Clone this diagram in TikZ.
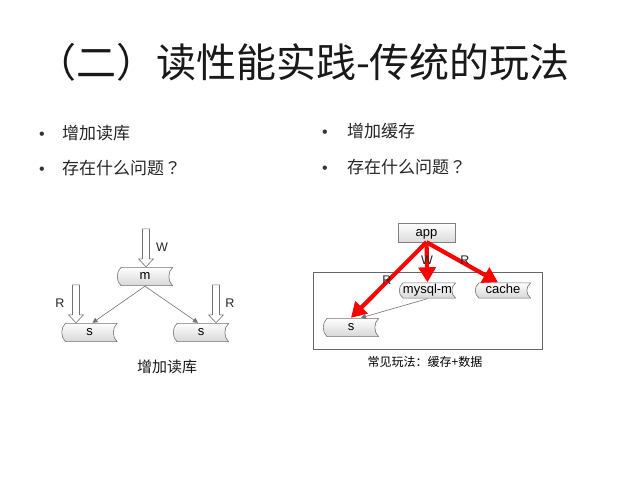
\documentclass[tikz,border=0pt]{standalone}
\usepackage{fontspec}
\setmainfont{Liberation Sans}
\newfontfamily\cjk{Noto Sans CJK SC}
\newfontfamily\cjkq{Noto Sans CJK TC}
\usetikzlibrary{arrows.meta}

\begin{document}
\begin{tikzpicture}[
  x=1pt, y=-1pt,
  title/.style={font=\cjk\fontsize{40}{44}\selectfont, text=black!90, inner sep=0pt},
  item/.style={font=\cjk\fontsize{17}{20}\selectfont, anchor=west, inner sep=0pt, text=black!85},
  dot/.style={font=\fontsize{16}{18}\selectfont, anchor=base, inner sep=0pt, text=black!80},
  caption/.style={font=\cjk\fontsize{15}{18}\selectfont, inner sep=0pt, text=black!90},
  lbl/.style={font=\fontsize{12.5}{14}\selectfont, inner sep=0pt, text=black!85},
  db/.style={minimum width=56pt, minimum height=19pt, inner sep=0pt, text height=0.7em, text depth=0.2em,
    font=\fontsize{13}{15}\selectfont,
    path picture={
      \draw[black!55, top color=white, bottom color=black!16, line width=0.6pt]
        ([shift={(4pt,-0.4pt)}]path picture bounding box.north west)
        .. controls +(-5pt,-4pt) and +(-5pt,4pt) ..
        ([shift={(4pt,0.4pt)}]path picture bounding box.south west)
        -- ([shift={(-0.4pt,0.4pt)}]path picture bounding box.south east)
        .. controls +(-5pt,4pt) and +(-5pt,-4pt) ..
        ([shift={(-0.4pt,-0.4pt)}]path picture bounding box.north east)
        -- cycle;
    }},
  appbox/.style={draw=black!50, top color=white, bottom color=black!14, minimum width=57pt, minimum height=19pt,
    inner sep=0pt, text height=0.7em, text depth=0pt, font=\fontsize{13}{15}\selectfont},
  frame/.style={draw=black!60, line width=0.6pt, minimum width=229pt, minimum height=77pt},
  sync/.style={-{Triangle[length=5pt,width=5pt]}, draw=black!55, line width=0.6pt},
  req/.style={-{Triangle[length=15pt,width=17pt]}, draw=red, line width=4.2pt},
  hollow/.pic={\draw[black!55, fill=white, line width=0.6pt] (0,0) -- (-7.5,-8) -- (-3.5,-8) -- (-3.5,-38) -- (3.5,-38) -- (3.5,-8) -- (7.5,-8) -- cycle;}
]
\useasboundingbox[fill=white] (0,0) rectangle (640,480);

% titre
\node[title] (head) at (303,62) {（二）读性能实践-传统的玩法};

% puces (ancre sur la ligne de base)
\node[dot]  (d1) at (42,139) {•};
\node[item] (t1) at (62,133) {增加读库};
\node[dot]  (d2) at (42,174) {•};
\node[item] (t2) at (62,168) {存在什么问题{\cjkq ？}};
\node[dot]  (d3) at (325,137) {•};
\node[item] (t3) at (347,131) {增加缓存};
\node[dot]  (d4) at (325,173) {•};
\node[item] (t4) at (347,167) {存在什么问题{\cjkq ？}};

% gauche : maitre + deux esclaves
\node[db] (m)  at (145,276.5) {m};
\node[db] (s1) at (89.5,332.5) {s};
\node[db] (s2) at (201,332.5) {s};
\draw[sync] (m.south) -- ([xshift=3pt]s1.north);
\draw[sync] (m.south) -- ([xshift=-3pt]s2.north);

\pic at ([xshift=1pt]m.north) {hollow};
\pic at ([xshift=-13.5pt]s1.north) {hollow};
\pic at ([xshift=15pt]s2.north) {hollow};
\node[lbl] (w1) at (162,247) {W};
\node[lbl] (r1) at (60,303) {R};
\node[lbl] (r2) at (230,303) {R};
\node[caption] (cap1) at (167,367) {增加读库};

% droite : cache + bases
\node[frame] (box) at (427.5,310.5) {};
\node[appbox] (app) at (426.5,232.5) {app};
\node[db, minimum width=57pt, minimum height=16pt] (mm)    at (427.5,290.5) {mysql-m};
\node[db, minimum height=16pt]                     (cache) at (503,290.5) {cache};
\node[db] (rs) at (351,327.5) {s};
\draw[sync] (mm.south) -- ([xshift=10pt]rs.north);

\draw[req] (app.south) -- (rs.north);
\draw[req] (app.south) -- (mm.north);
\draw[req] (app.south) -- ([xshift=-5pt]cache.north);
\node[lbl] (r3) at (387,280) {R};
\node[lbl] (w2) at (427,260) {W};
\node[lbl] (r4) at (465,260) {R};
\node[caption, font=\cjk\fontsize{12}{14}\selectfont, text=black] (cap2) at (425,362) {常见玩法：缓存+数据};
\end{tikzpicture}
\end{document}
